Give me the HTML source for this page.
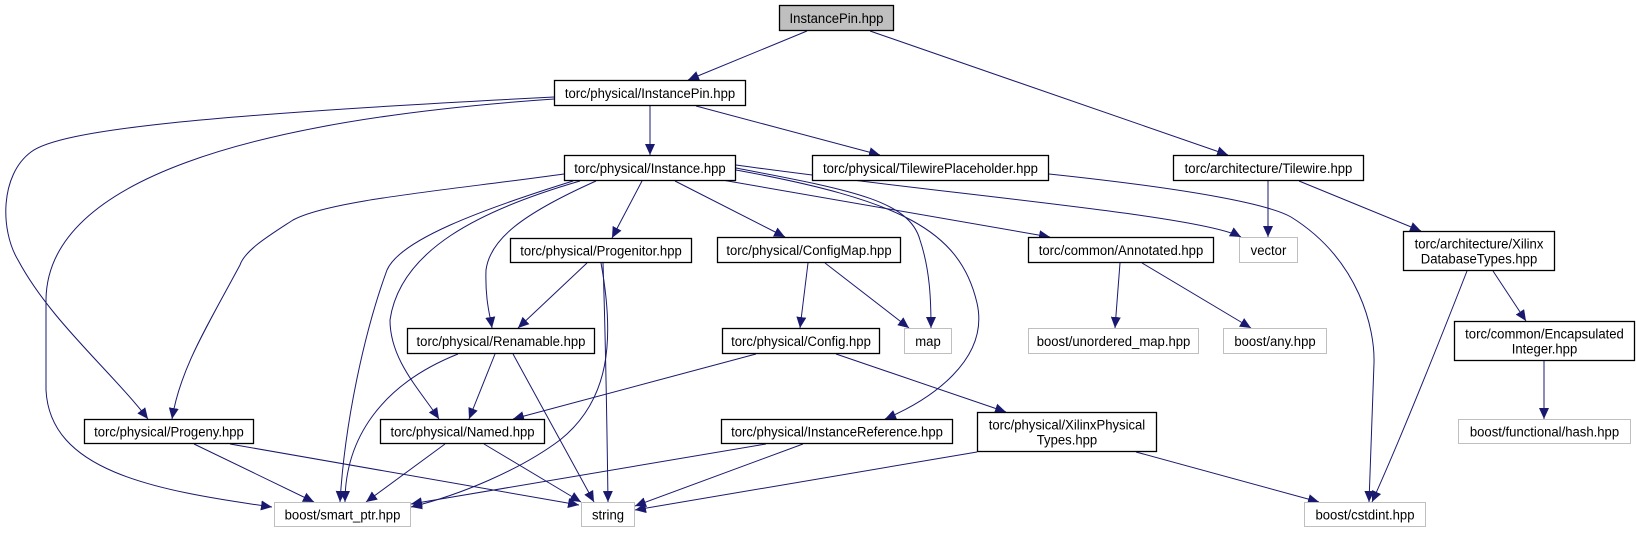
<!DOCTYPE html>
<html><head><meta charset="utf-8"><style>
html,body{margin:0;padding:0;background:#fff;}
svg{display:block;}
text{font-family:"Liberation Sans",sans-serif;font-size:13.5px;fill:#000;}
</style></head><body>
<svg id="g" width="1636" height="533" viewBox="0 0 1636 533">
<defs><marker id="ah" markerUnits="userSpaceOnUse" markerWidth="12" markerHeight="10" refX="11" refY="5" orient="auto"><path d="M0,0 L11,5 L0,10 z" fill="#191970"/></marker></defs>
<g id="edges"></g><g id="nodes"></g>
</svg>
<script>
const nodeLabels=["InstancePin.hpp","torc/physical/InstancePin.hpp","torc/physical/Instance.hpp","torc/physical/TilewirePlaceholder.hpp","torc/architecture/Tilewire.hpp","torc/physical/Progenitor.hpp","torc/physical/ConfigMap.hpp","torc/common/Annotated.hpp","vector","torc/architecture/Xilinx|DatabaseTypes.hpp","torc/physical/Renamable.hpp","torc/physical/Config.hpp","map","boost/unordered_map.hpp","boost/any.hpp","torc/common/Encapsulated|Integer.hpp","torc/physical/Progeny.hpp","torc/physical/Named.hpp","torc/physical/InstanceReference.hpp","torc/physical/XilinxPhysical|Types.hpp","boost/functional/hash.hpp","boost/smart_ptr.hpp","string","boost/cstdint.hpp"];
const nodeBoxes=[[779,5,894,31],[554,80,746,106],[564,155,736,181],[812,155,1049,181],[1173,155,1364,181],[510,238,692,263],[717,237,901,263],[1028,237,1214,263],[1239,237,1298,263],[1403,231,1555,271],[407,328,595,354],[722,328,880,354],[904,328,952,354],[1028,328,1199,354],[1223,328,1327,354],[1454,321,1635,361],[84,419,254,444],[380,419,545,444],[721,419,953,444],[977,412,1157,452],[1458,419,1631,444],[274,502,411,527],[581,502,635,527],[1304,502,1426,527]];
const nodeKinds=["root","n","n","n","n","n","n","n","ext","n","n","n","ext","ext","ext","n","n","n","n","n","ext","ext","ext","ext"];
const edgePaths=[
"M807,31 L688,80","M870,31 L1228,155","M650,106 L650,155","M696,106 L880,155",
"M554,97 C200,115 60,130 31,152 C0,175 0,230 18,260 C50,320 110,370 148,419",
"M554,99 C250,120 47,180 46,300 L46,390 C50,470 150,490 272,507",
"M564,174 C450,190 330,200 293,220 C270,235 245,250 240,265 C205,330 180,370 172,419",
"M573,181 C480,210 400,240 387,270 C365,330 345,420 340,502",
"M580,181 C480,210 400,250 390,320 C390,360 420,390 439,419",
"M596,181 C520,215 490,240 486,270 C485,300 490,315 492,328",
"M642,181 L612,238","M675,181 L785,237",
"M736,168 C850,190 909,200 920,240 C930,270 931,300 931,328",
"M736,170 C900,200 960,230 977,303 C990,360 930,400 885,419",
"M722,180 L1050,237",
"M736,165 C950,195 1200,215 1241,237",
"M1049,174 C1200,190 1270,205 1291,217 C1360,260 1375,330 1374,363 C1372,420 1370,470 1369,502",
"M1268,181 L1268,237","M1299,181 L1421,231",
"M1467,271 C1440,340 1400,440 1372,502",
"M1493,271 L1526,321","M1544,361 L1544,419",
"M1120,263 L1115,328","M1142,263 L1251,328",
"M825,263 L909,328","M808,263 L800,328",
"M756,354 L513,419","M836,354 L1006,412",
"M587,263 L518,328","M603,263 C606,350 607,430 608,502",
"M601,263 C615,340 610,400 560,440 C520,470 460,495 411,507",
"M458,354 C380,385 345,440 345,502",
"M495,354 L469,419","M513,354 L594,502",
"M445,444 L366,502","M484,444 L581,502",
"M194,444 L314,502","M230,444 L579,505",
"M766,444 L411,504","M803,444 L635,506",
"M977,452 L635,510","M1136,452 L1319,502"];
const NS="http://www.w3.org/2000/svg";
const eg=document.getElementById('edges'), ng=document.getElementById('nodes');
edgePaths.forEach((d,i)=>{
  const p=document.createElementNS(NS,'path');
  p.setAttribute('d',d);p.setAttribute('fill','none');p.setAttribute('stroke','#191970');p.setAttribute('stroke-width','1');p.setAttribute('marker-end','url(#ah)');
  
  
  eg.appendChild(p);
});
nodeLabels.forEach((lab,i)=>{
  const [x1,y1,x2,y2]=nodeBoxes[i];const k=nodeKinds[i];
  const g=document.createElementNS(NS,'g');
  
  
  const r=document.createElementNS(NS,'rect');
  r.setAttribute('x',x1+0.5);r.setAttribute('y',y1+0.5);r.setAttribute('width',x2-x1-1);r.setAttribute('height',y2-y1-1);
  r.setAttribute('fill',k==='root'?'#bfbfbf':'#fff');r.setAttribute('stroke',k==='ext'?'#bfbfbf':'#000');r.setAttribute('stroke-width',k==='ext'?'1':'1.3');
  g.appendChild(r);
  const lines=lab.split('|');const cx=(x1+x2)/2,cy=(y1+y2)/2;
  lines.forEach((t,j)=>{
    const tx=document.createElementNS(NS,'text');
    tx.setAttribute('x',cx);tx.setAttribute('y',cy+5+(j-(lines.length-1)/2)*15);tx.setAttribute('text-anchor','middle');
    tx.textContent=t;g.appendChild(tx);
    ng.appendChild(g);
    const nat=tx.getComputedTextLength();
    const w=Math.min(x2-x1-12,nat*0.97);
    tx.setAttribute('textLength',w);tx.setAttribute('lengthAdjust','spacingAndGlyphs');
  });
  ng.appendChild(g);
});
</script>
</body></html>
